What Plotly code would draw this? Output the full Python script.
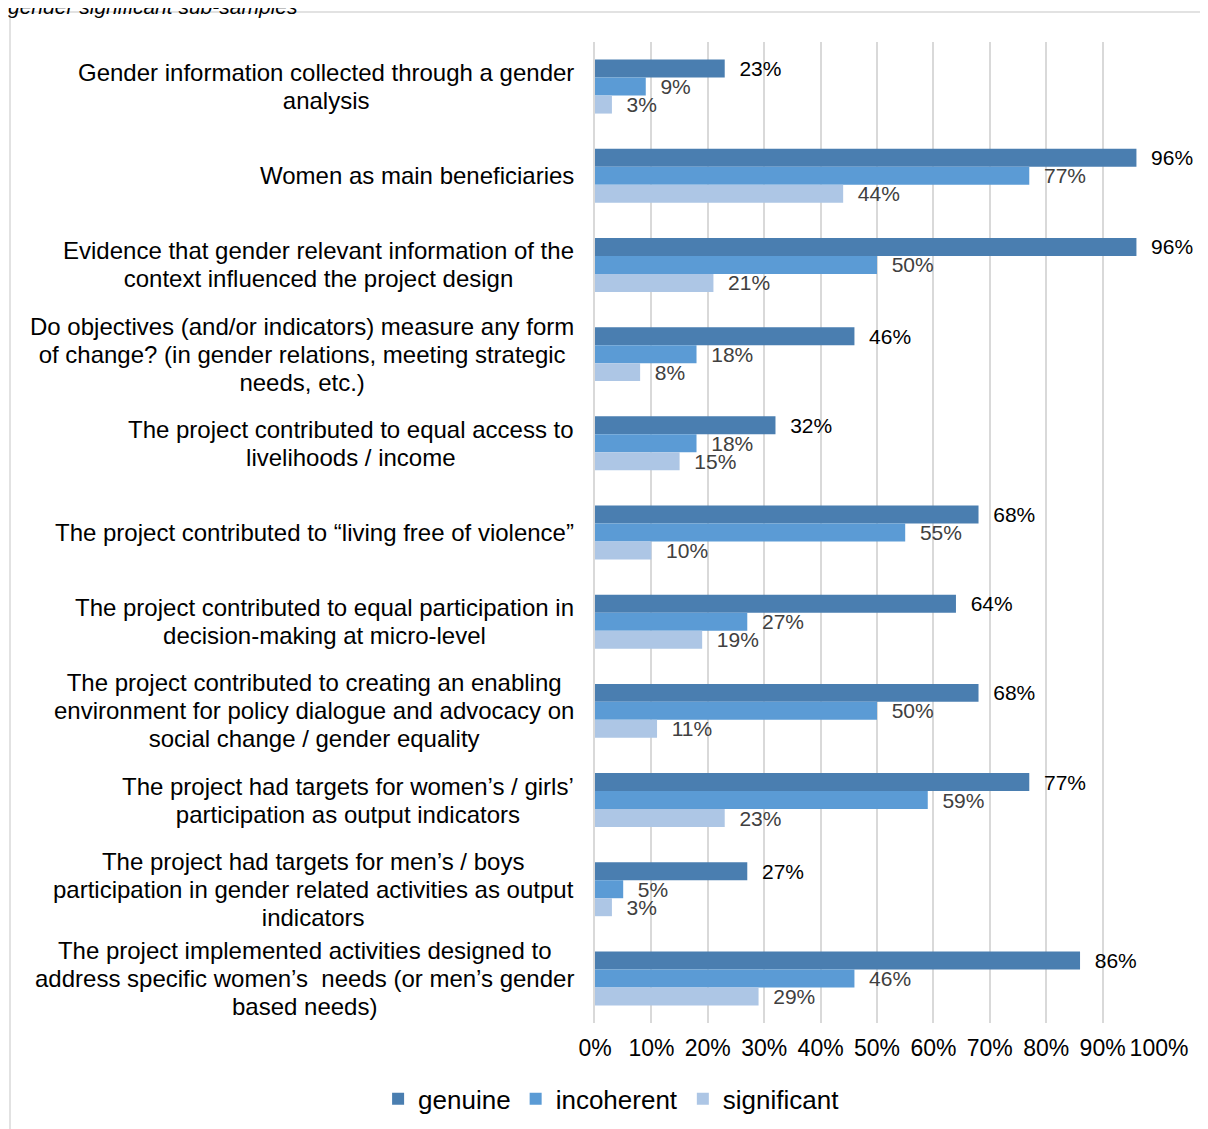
import plotly.graph_objects as go

categories = [
    "Gender information collected through a gender<br>analysis",
    "Women as main beneficiaries",
    "Evidence that gender relevant information of the<br>context influenced the project design",
    "Do objectives (and/or indicators) measure any form<br>of change? (in gender relations, meeting strategic<br>needs, etc.)",
    "The project contributed to equal access to<br>livelihoods / income",
    "The project contributed to “living free of violence”",
    "The project contributed to equal participation in<br>decision-making at micro-level",
    "The project contributed to creating an enabling<br>environment for policy dialogue and advocacy on<br>social change / gender equality",
    "The project had targets for women’s / girls’<br>participation as output indicators",
    "The project had targets for men’s / boys<br>participation in gender related activities as output<br>indicators",
    "The project implemented activities designed to<br>address specific women’s  needs (or men’s gender<br>based needs)",
]
genuine = [23, 96, 96, 46, 32, 68, 64, 68, 77, 27, 86]
incoherent = [9, 77, 50, 18, 18, 55, 27, 50, 59, 5, 46]
significant = [3, 44, 21, 8, 15, 10, 19, 11, 23, 3, 29]
tick_vals = [0, 10, 20, 30, 40, 50, 60, 70, 80, 90, 100]
tick_text = ["0%", "10%", "20%", "30%", "40%", "50%", "60%", "70%", "80%", "90%", "100%"]
title_text = "gender significant sub-samples"

FONT = "Liberation Sans, Arial, sans-serif"
series = [
    ("genuine", genuine, "#4A7EB0", "#000000"),
    ("incoherent", incoherent, "#5B9BD5", "#404040"),
    ("significant", significant, "#ADC6E5", "#404040"),
]

fig = go.Figure()
for name, vals, color, tcolor in series:
    fig.add_trace(go.Bar(
        name=name, y=list(range(len(categories))), x=vals, orientation="h",
        marker=dict(color=color, line=dict(width=0)),
        text=["\u00a0\u00a0" + f"{v}%" for v in vals],
        textposition="outside", constraintext="none", cliponaxis=False,
        textfont=dict(family=FONT, size=21, color=tcolor),
    ))

# the page body has an 8px margin, so the figure is laid out in page pixels minus 8
OFF = 8
W, H = 1200, 1121
ml, mr, mt, mb = 587, 49, 34, 106
pw, ph = W - ml - mr, H - mt - mb

def px_x(p):
    return (p - OFF - ml) / pw

def px_y(p):
    return (H - mb - (p - OFF)) / ph

annotations = []
for i, c in enumerate(categories):
    lines = c.split("<br>")
    txt = "<br>".join("<span style='font-size:24px'>" + ln + "</span>" for ln in lines)
    annotations.append(dict(
        x=0, xref="paper", y=i, yref="y", text=txt, showarrow=False,
        xanchor="right", yanchor="middle", align="center", xshift=-19,
        font=dict(family=FONT, size=21.5, color="#000000"),
    ))
annotations.append(dict(
    x=px_x(8), xref="paper", y=px_y(20), yref="paper", text="<i>" + title_text + "</i>",
    showarrow=False, xanchor="left", yanchor="bottom", xshift=-2,
    font=dict(family=FONT, size=21, color="#000000"),
))

fig.update_layout(
    width=W, height=H,
    margin=dict(l=ml, r=mr, t=mt, b=mb),
    paper_bgcolor="white", plot_bgcolor="white",
    barmode="group", bargap=0.395, bargroupgap=0,
    font=dict(family=FONT, size=21, color="#000000"),
    xaxis=dict(range=[0, 100], tickvals=tick_vals, ticktext=tick_text,
               showgrid=True, gridcolor="#D9D9D9", gridwidth=1.5,
               zeroline=False, showline=False, ticks="", ticklabelstandoff=9,
               tickfont=dict(family=FONT, size=23, color="#000000")),
    yaxis=dict(autorange="reversed", showticklabels=False, showgrid=False,
               zeroline=False, showline=True, linecolor="#D9D9D9", linewidth=1.5,
               ticks=""),
    legend=dict(orientation="h", xref="container", x=0.503, xanchor="center",
                yref="container", y=0.0268, yanchor="middle",
                font=dict(family=FONT, size=26, color="#000000"),
                itemwidth=30, traceorder="normal"),
    annotations=annotations,
    shapes=[dict(type="rect", xref="paper", yref="paper",
                 x0=px_x(10), x1=px_x(1240), y0=px_y(12), y1=px_y(1170),
                 line=dict(color="#D9D9D9", width=1.5), fillcolor="rgba(0,0,0,0)",
                 layer="below")],
)

fig.write_html("out.html")
